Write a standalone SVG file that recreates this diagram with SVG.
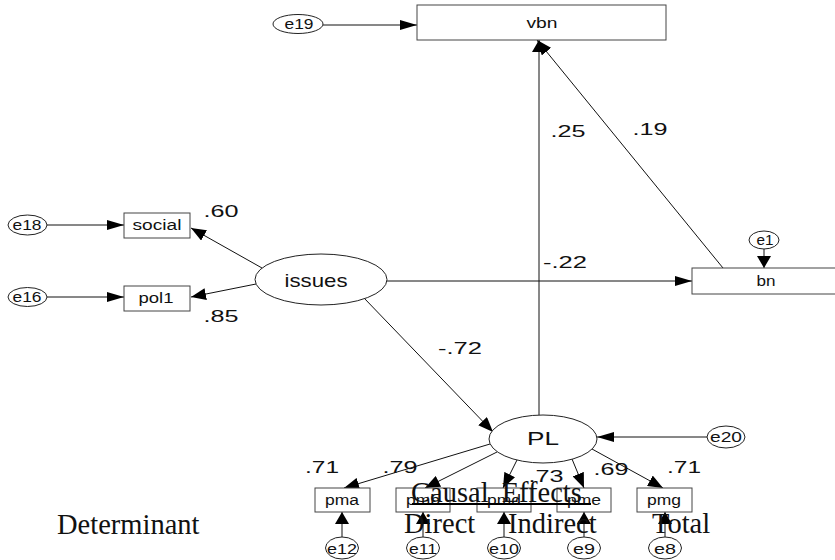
<svg xmlns="http://www.w3.org/2000/svg" width="835" height="560" viewBox="0 0 835 560">
<style>
.box{fill:#fff;stroke:#444;stroke-width:1}
.ell{fill:#fff;stroke:#222;stroke-width:1}
.nl{font-family:"Liberation Sans",Arial,sans-serif;font-size:14px;fill:#111;text-anchor:middle}
.el{font-family:"Liberation Sans",Arial,sans-serif;font-size:14px;fill:#111;text-anchor:middle}
.eb{font-family:"Liberation Sans",Arial,sans-serif;font-size:15px;fill:#111;text-anchor:middle}
.lb{font-family:"Liberation Sans",Arial,sans-serif;font-size:17px;fill:#111;text-anchor:middle}
.tt{font-family:"Liberation Serif","Times New Roman",serif;font-size:28.5px;fill:#111}
.c line{stroke:#111;stroke-width:1;fill:none}
</style>
<defs>
<marker id="mh" markerUnits="userSpaceOnUse" markerWidth="17" markerHeight="10" refX="17" refY="5" orient="auto"><path d="M0,0 L17,5 L0,10 z" fill="#000"/></marker>
<marker id="mv" markerUnits="userSpaceOnUse" markerWidth="12" markerHeight="14" refX="12" refY="7" orient="auto"><path d="M0,0 L12,7 L0,14 z" fill="#000"/></marker>
<marker id="md" markerUnits="userSpaceOnUse" markerWidth="15" markerHeight="12" refX="15" refY="6" orient="auto"><path d="M0,0 L15,6 L0,12 z" fill="#000"/></marker>
</defs>
<rect width="835" height="560" fill="#fff"/>
<g class="c" id="connectors">
<line x1="323" y1="25" x2="417" y2="25" marker-end="url(#mh)"/>
<line x1="47" y1="225" x2="124" y2="225" marker-end="url(#mh)"/>
<line x1="47" y1="297" x2="124" y2="297" marker-end="url(#mh)"/>
<line x1="262" y1="268" x2="191" y2="228" marker-end="url(#md)"/>
<line x1="256" y1="284" x2="191" y2="297" marker-end="url(#md)"/>
<line x1="387" y1="281" x2="692" y2="281" marker-end="url(#mh)"/>
<line x1="364" y1="298" x2="493" y2="432" marker-end="url(#md)"/>
<line x1="539" y1="415" x2="539" y2="40" marker-end="url(#mv)"/>
<line x1="723" y1="268" x2="537" y2="40" marker-end="url(#md)"/>
<line x1="764" y1="249" x2="764" y2="268" marker-end="url(#mv)"/>
<line x1="707" y1="437" x2="597" y2="437" marker-end="url(#mh)"/>
<line x1="490" y1="444" x2="344" y2="488" marker-end="url(#md)"/>
<line x1="497" y1="452" x2="425" y2="488" marker-end="url(#md)"/>
<line x1="517" y1="460" x2="503" y2="488" marker-end="url(#md)"/>
<line x1="572" y1="459" x2="584" y2="488" marker-end="url(#md)"/>
<line x1="592" y1="449" x2="663" y2="488" marker-end="url(#md)"/>
<line x1="342" y1="537" x2="342" y2="512" marker-end="url(#mv)"/>
<line x1="423" y1="537" x2="423" y2="512" marker-end="url(#mv)"/>
<line x1="504" y1="537" x2="504" y2="512" marker-end="url(#mv)"/>
<line x1="584" y1="537" x2="584" y2="512" marker-end="url(#mv)"/>
<line x1="665" y1="537" x2="665" y2="512" marker-end="url(#mv)"/>
</g>
<g id="vbn"><rect class="box" x="417" y="5" width="249" height="35"/><text class="nl" x="542" y="28" textLength="31" lengthAdjust="spacingAndGlyphs">vbn</text></g>
<g id="e19"><ellipse class="ell" cx="298" cy="24" rx="25" ry="9.5"/><text class="el" x="299" y="29" textLength="29" lengthAdjust="spacingAndGlyphs">e19</text></g>
<g id="social"><rect class="box" x="124" y="213" width="66" height="25"/><text class="nl" x="157" y="230" textLength="49" lengthAdjust="spacingAndGlyphs">social</text></g>
<g id="pol1"><rect class="box" x="124" y="286" width="66" height="25"/><text class="nl" x="156" y="303" textLength="35" lengthAdjust="spacingAndGlyphs">pol1</text></g>
<g id="e18"><ellipse class="ell" cx="27.5" cy="225" rx="19.5" ry="10"/><text class="el" x="27" y="230" textLength="29" lengthAdjust="spacingAndGlyphs">e18</text></g>
<g id="e16"><ellipse class="ell" cx="27.5" cy="297" rx="19.5" ry="9.5"/><text class="el" x="27" y="302" textLength="29" lengthAdjust="spacingAndGlyphs">e16</text></g>
<g id="issues"><ellipse class="ell" cx="321" cy="279.5" rx="66" ry="25.5"/><text class="nl" x="316" y="287" style="font-size:19px" textLength="63" lengthAdjust="spacingAndGlyphs">issues</text></g>
<g id="bn"><rect class="box" x="692" y="268" width="150" height="26"/><text class="nl" x="766" y="286" textLength="19" lengthAdjust="spacingAndGlyphs">bn</text></g>
<g id="e1"><ellipse class="ell" cx="764" cy="240" rx="15" ry="9"/><text class="el" x="765" y="245" textLength="17" lengthAdjust="spacingAndGlyphs">e1</text></g>
<g id="PL"><ellipse class="ell" cx="543" cy="439" rx="54" ry="24"/><text class="nl" x="543" y="445" style="font-size:18.5px" textLength="32" lengthAdjust="spacingAndGlyphs">PL</text></g>
<g id="e20"><ellipse class="ell" cx="726" cy="437" rx="19" ry="11"/><text class="el" x="726" y="442" textLength="32" lengthAdjust="spacingAndGlyphs">e20</text></g>
<g id="pma"><rect class="box" x="315" y="488" width="55" height="24"/><text class="nl" x="342" y="505" textLength="34" lengthAdjust="spacingAndGlyphs">pma</text></g>
<g id="pmb"><rect class="box" x="396" y="488" width="54" height="24"/><text class="nl" x="423" y="505" textLength="34" lengthAdjust="spacingAndGlyphs">pmb</text></g>
<g id="pmd"><rect class="box" x="477" y="488" width="54" height="24"/><text class="nl" x="504" y="505" textLength="34" lengthAdjust="spacingAndGlyphs">pmd</text></g>
<g id="pme"><rect class="box" x="557" y="488" width="54" height="24"/><text class="nl" x="584" y="505" textLength="34" lengthAdjust="spacingAndGlyphs">pme</text></g>
<g id="pmg"><rect class="box" x="637" y="488" width="55" height="24"/><text class="nl" x="664" y="505" textLength="34" lengthAdjust="spacingAndGlyphs">pmg</text></g>
<g id="e12"><ellipse class="ell" cx="342" cy="548" rx="16.5" ry="11"/><text class="eb" x="342" y="554" textLength="30" lengthAdjust="spacingAndGlyphs">e12</text></g>
<g id="e11"><ellipse class="ell" cx="423" cy="548" rx="16.5" ry="11"/><text class="eb" x="423" y="554" textLength="28" lengthAdjust="spacingAndGlyphs">e11</text></g>
<g id="e10"><ellipse class="ell" cx="504" cy="548" rx="16.5" ry="11"/><text class="eb" x="504" y="554" textLength="30" lengthAdjust="spacingAndGlyphs">e10</text></g>
<g id="e9"><ellipse class="ell" cx="584" cy="548" rx="16.5" ry="11"/><text class="eb" x="584" y="554" textLength="22" lengthAdjust="spacingAndGlyphs">e9</text></g>
<g id="e8"><ellipse class="ell" cx="665" cy="548" rx="16.5" ry="11"/><text class="eb" x="665" y="554" textLength="22" lengthAdjust="spacingAndGlyphs">e8</text></g>
<g id="edge-labels">
<text class="lb" x="221" y="217" textLength="35" lengthAdjust="spacingAndGlyphs">.60</text>
<text class="lb" x="221" y="322" textLength="35" lengthAdjust="spacingAndGlyphs">.85</text>
<text class="lb" x="568" y="137" textLength="35" lengthAdjust="spacingAndGlyphs">.25</text>
<text class="lb" x="650" y="135" textLength="35" lengthAdjust="spacingAndGlyphs">.19</text>
<text class="lb" x="565" y="268" textLength="44" lengthAdjust="spacingAndGlyphs">-.22</text>
<text class="lb" x="460" y="354" textLength="44" lengthAdjust="spacingAndGlyphs">-.72</text>
<text class="lb" x="322" y="473" textLength="34" lengthAdjust="spacingAndGlyphs">.71</text>
<text class="lb" x="400" y="473" textLength="35" lengthAdjust="spacingAndGlyphs">.79</text>
<text class="lb" x="546" y="482" textLength="35" lengthAdjust="spacingAndGlyphs">.73</text>
<text class="lb" x="611" y="475" textLength="35" lengthAdjust="spacingAndGlyphs">.69</text>
<text class="lb" x="684" y="473" textLength="34" lengthAdjust="spacingAndGlyphs">.71</text>
</g>
<g id="table">
<text class="tt" x="57" y="534">Determinant</text>
<text class="tt" x="411" y="502" style="word-spacing:6px">Causal Effects</text>
<line x1="412" y1="504" x2="591" y2="504" stroke="#000" stroke-width="2"/>
<text class="tt" x="404" y="533">Direct</text>
<text class="tt" x="508" y="533">Indirect</text>
<text class="tt" x="652" y="533">Total</text>
</g>
</svg>
